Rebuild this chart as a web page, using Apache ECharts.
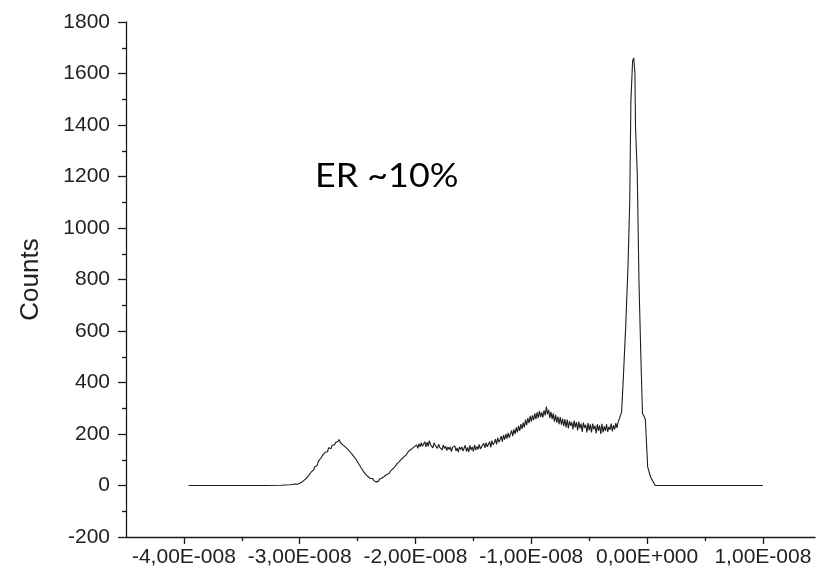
<!DOCTYPE html>
<html>
<head>
<meta charset="utf-8">
<script src="https://cdn.jsdelivr.net/npm/echarts@6/dist/echarts.min.js"></script>
<style>html,body{margin:0;padding:0;background:#fff;}#c{width:816px;height:572px;}</style>
</head>
<body>
<div id="c"></div>
<script>
// time in units of 1E-008 s
var timeE8 = [
-3.96,-3.60,-3.30,-3.16,-3.12,-3.08,-3.04,-3.02,
-3.00,-2.99,-2.98,-2.97,-2.96,-2.95,-2.94,-2.93,-2.92,-2.91,
-2.90,-2.89,-2.88,-2.87,-2.86,-2.85,-2.84,-2.83,-2.82,-2.81,
-2.80,-2.79,-2.78,-2.77,-2.76,-2.75,-2.74,-2.73,-2.72,-2.71,
-2.70,-2.69,-2.68,-2.67,-2.66,-2.65,-2.64,-2.63,-2.62,-2.61,
-2.60,-2.59,-2.58,-2.57,-2.56,-2.55,-2.54,-2.53,-2.52,-2.51,
-2.50,-2.49,-2.48,-2.47,-2.46,-2.45,-2.44,-2.43,-2.42,-2.41,
-2.40,-2.39,-2.38,-2.37,-2.36,-2.35,-2.34,-2.33,-2.32,-2.31,
-2.30,-2.29,-2.28,-2.27,-2.26,-2.25,-2.24,-2.23,-2.22,-2.21,
-2.20,-2.19,-2.18,-2.17,-2.16,-2.15,-2.14,-2.13,-2.12,-2.11,
-2.10,-2.09,-2.08,-2.07,-2.06,-2.05,-2.04,-2.03,-2.02,-2.01,
-2.00,-1.99,-1.98,-1.97,-1.96,-1.95,-1.94,-1.93,-1.92,-1.91,
-1.90,-1.89,-1.88,-1.87,-1.86,-1.85,-1.84,-1.83,-1.82,-1.81,
-1.80,-1.79,-1.78,-1.77,-1.76,-1.75,-1.74,-1.73,-1.72,-1.71,
-1.70,-1.69,-1.68,-1.67,-1.66,-1.65,-1.64,-1.63,-1.62,-1.61,
-1.60,-1.59,-1.58,-1.57,-1.56,-1.55,-1.54,-1.53,-1.52,-1.51,
-1.50,-1.49,-1.48,-1.47,-1.46,-1.45,-1.44,-1.43,-1.42,-1.41,
-1.40,-1.39,-1.38,-1.37,-1.36,-1.35,-1.34,-1.33,-1.32,-1.31,
-1.30,-1.29,-1.28,-1.27,-1.26,-1.25,-1.24,-1.23,-1.22,-1.21,
-1.20,-1.19,-1.18,-1.17,-1.16,-1.15,-1.14,-1.13,-1.12,-1.11,
-1.10,-1.09,-1.08,-1.07,-1.06,-1.05,-1.04,-1.03,-1.02,-1.01,
-1.00,-0.99,-0.98,-0.97,-0.96,-0.95,-0.94,-0.93,-0.92,-0.91,
-0.90,-0.89,-0.88,-0.87,-0.86,-0.85,-0.84,-0.83,-0.82,-0.81,
-0.80,-0.79,-0.78,-0.77,-0.76,-0.75,-0.74,-0.73,-0.72,-0.71,
-0.70,-0.69,-0.68,-0.67,-0.66,-0.65,-0.64,-0.63,-0.62,-0.61,
-0.60,-0.59,-0.58,-0.57,-0.56,-0.55,-0.54,-0.53,-0.52,-0.51,
-0.50,-0.49,-0.48,-0.47,-0.46,-0.45,-0.44,-0.43,-0.42,-0.41,
-0.40,-0.39,-0.38,-0.37,-0.36,-0.35,-0.34,-0.33,-0.32,-0.31,
-0.30,-0.29,-0.28,-0.27,-0.26,-0.25,-0.24,
-0.22,-0.205,-0.185,-0.165,-0.15,-0.14,-0.125,-0.115,-0.105,-0.10,
-0.085,-0.07,-0.055,-0.04,-0.015,0.005,0.03,0.07,1.00
];
var counts = [
0,0,0,1,2,3,6,5,
9,12,14,11,21,24,29,34,40,45,
53,59,60,73,79,77,93,97,105,100,
119,121,129,135,131,147,149,143,157,161,
157,167,162,171,179,167,172,159,165,151,
155,143,147,133,131,123,119,111,105,99,
91,85,77,69,65,55,53,43,43,35,
35,27,25,27,19,23,14,21,16,25,
20,29,29,35,37,43,45,46,53,59,
63,67,73,77,85,85,93,97,103,103,
111,117,119,127,123,137,133,143,137,151,
146,158,144,162,150,166,152,158,170,150,
168,152,174,158,164,146,166,156,162,144,
160,148,154,138,158,144,152,136,150,140,
150,132,148,142,154,134,146,130,150,140,
150,134,140,156,132,148,130,156,138,150,
132,158,138,152,140,160,142,150,144,164,
146,166,150,160,170,148,174,158,166,180,
160,186,168,178,192,170,196,178,200,182,
204,186,200,214,192,218,200,226,206,232,
212,238,220,244,226,256,234,262,242,270,
248,272,254,280,258,284,262,290,266,284,
264,292,272,306,276,294,262,286,258,280,
248,274,244,268,238,266,236,260,230,258,
226,256,222,250,232,246,218,252,226,246,
214,248,222,240,208,244,224,236,206,242,
214,238,206,240,218,232,202,238,212,234,
200,240,206,230,212,238,208,228,216,240,
210,234,218,242,224,246,252,
285,420,615,850,1100,1490,1650,1660,1600,1392,
1213,790,520,281,257,72,33,0,0
];
var xMajorTicks = [-4,-3,-2,-1,0,1];
var xMinorTicks = [-3.5,-2.5,-1.5,-0.5,0.5];
var yTickLabels = [-200,0,200,400,600,800,1000,1200,1400,1600,1800];
var yAxisTitle = 'Counts';
var annotation = 'ER ~10%';

function fmtX(v){
  if (Math.abs(v) < 1e-9) return '0,00E+000';
  return v.toFixed(2).replace('.', ',') + 'E-008';
}
var pts = timeE8.map(function(t,i){return [t, counts[i]];});
var axisColor = '#1a1a1a';
var chart = echarts.init(document.getElementById('c'));
chart.setOption({
  animation: false,
  grid: {left: 126, right: 1, top: 22, bottom: 35, containLabel: false},
  xAxis: [{
    type: 'value', min: -4.5, max: 1.45,
    axisLine: {show: true, onZero: false, lineStyle: {color: axisColor, width: 1.3}},
    axisTick: {show: true, customValues: xMajorTicks, length: 7, lineStyle: {color: axisColor, width: 1.3}},
    axisLabel: {show: true, customValues: xMajorTicks, formatter: fmtX, margin: 10, color: '#222', fontSize: 21, fontFamily: 'Liberation Sans'},
    splitLine: {show: false}
  }, {
    type: 'value', min: -4.5, max: 1.45, position: 'bottom', gridIndex: 0,
    axisLine: {show: false, onZero: false},
    axisTick: {show: true, customValues: xMinorTicks, length: 4, lineStyle: {color: axisColor, width: 1.3}},
    axisLabel: {show: false},
    splitLine: {show: false}
  }],
  yAxis: {
    type: 'value', min: yTickLabels[0], max: yTickLabels[yTickLabels.length-1], interval: 200,
    name: yAxisTitle, nameLocation: 'middle', nameGap: 82, nameRotate: 90,
    nameTextStyle: {fontSize: 26, color: '#222', fontFamily: 'Liberation Sans'},
    axisLine: {show: true, onZero: false, lineStyle: {color: axisColor, width: 1.3}},
    axisTick: {show: true, length: 8, lineStyle: {color: axisColor, width: 1.3}},
    minorTick: {show: true, splitNumber: 2, length: 4, lineStyle: {color: axisColor, width: 1.3}},
    axisLabel: {margin: 16, color: '#222', fontSize: 21, fontFamily: 'Liberation Sans', formatter: function(v){return String(v);}},
    splitLine: {show: false}
  },
  graphic: [{
    type: 'text', left: 315, top: 161, scaleX: 1.12,
    style: {text: annotation, fontSize: 32, fontFamily: 'Lato', fill: '#000'}
  }],
  series: [{
    type: 'line', xAxisIndex: 0, data: pts, showSymbol: false, symbol: 'none',
    lineStyle: {color: '#1e1e1e', width: 1.1}
  }]
});
</script>
</body>
</html>
